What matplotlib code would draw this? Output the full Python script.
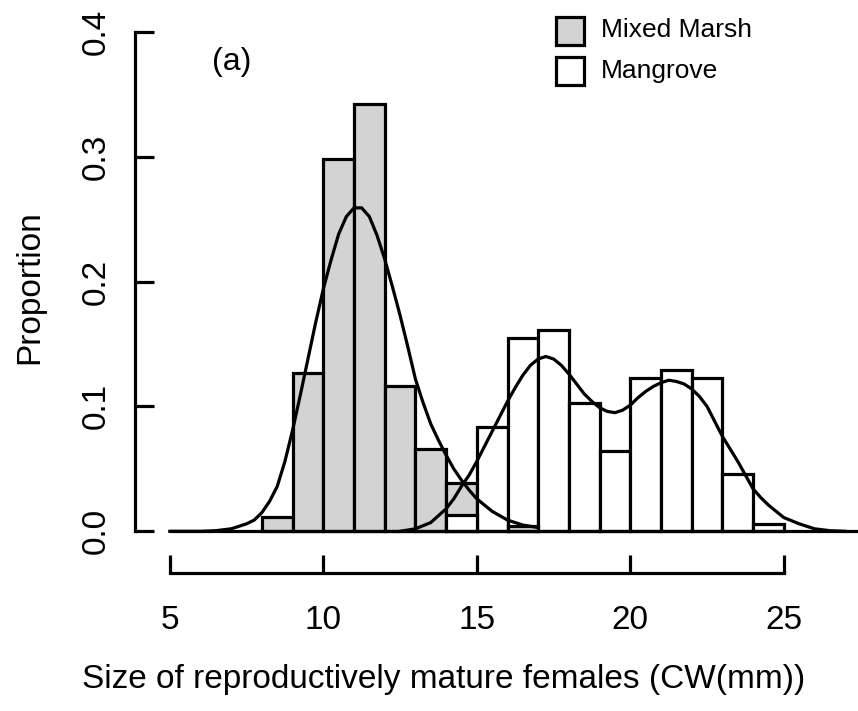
import matplotlib
matplotlib.use("Agg")
import matplotlib.pyplot as plt
import numpy as np
from matplotlib.patches import Rectangle

plt.rcParams['font.family'] = ['Liberation Sans', 'DejaVu Sans']

# ---------------- data ----------------
bin_edges = [8, 9, 10, 11, 12, 13, 14, 15, 16, 17, 18, 19, 20, 21, 22, 23, 24, 25]
marsh_prop = [0.0115, 0.127, 0.298, 0.342, 0.116, 0.066, 0.039, 0.0, 0.004,
              0.0, 0.0, 0.0, 0.0, 0.0, 0.0, 0.0, 0.0]
mangrove_prop = [0.0, 0.0, 0.0, 0.0, 0.0, 0.0, 0.0132, 0.0838, 0.155, 0.161,
                 0.103, 0.0643, 0.1224, 0.1288, 0.1224, 0.0456, 0.0056]

marsh_curve_x = [5.0, 5.5, 6.0, 6.5, 7.0, 7.5, 7.75, 8.0, 8.25, 8.5, 8.75, 9.0,
                 9.25, 9.5, 9.75, 10.0, 10.25, 10.5, 10.75, 11.0, 11.25, 11.5,
                 11.75, 12.0, 12.25, 12.5, 12.75, 13.0, 13.25, 13.5, 13.75, 14.0,
                 14.25, 14.5, 14.75, 15.0, 15.5, 16.0, 16.5, 17.0]
marsh_curve_y = [0.0, 0.0, 0.0, 0.0005, 0.002, 0.006, 0.009, 0.015, 0.024, 0.036,
                 0.056, 0.081, 0.109, 0.138, 0.167, 0.194, 0.217, 0.238, 0.252,
                 0.259, 0.259, 0.252, 0.237, 0.218, 0.196, 0.173, 0.148, 0.122,
                 0.103, 0.086, 0.073, 0.061, 0.050, 0.041, 0.033, 0.026, 0.016,
                 0.009, 0.005, 0.003]

mangrove_curve_x = [12.5, 13.0, 13.5, 14.0, 14.25, 14.5, 14.75, 15.0, 15.25, 15.5,
                    15.75, 16.0, 16.25, 16.5, 16.75, 17.0, 17.25, 17.5, 17.75,
                    18.0, 18.25, 18.5, 18.75, 19.0, 19.25, 19.5, 19.75, 20.0,
                    20.25, 20.5, 20.75, 21.0, 21.25, 21.5, 21.75, 22.0, 22.25,
                    22.5, 22.75, 23.0, 23.25, 23.5, 23.75, 24.0, 24.25, 24.5,
                    24.75, 25.0, 25.5, 26.0, 26.5, 27.0]
mangrove_curve_y = [0.0, 0.002, 0.007, 0.018, 0.026, 0.036, 0.045, 0.056, 0.068,
                    0.080, 0.092, 0.104, 0.115, 0.125, 0.133, 0.138, 0.140, 0.138,
                    0.133, 0.126, 0.118, 0.110, 0.104, 0.099, 0.096, 0.095, 0.097,
                    0.101, 0.107, 0.112, 0.116, 0.119, 0.121, 0.120, 0.118, 0.114,
                    0.108, 0.100, 0.088, 0.076, 0.066, 0.056, 0.045, 0.034, 0.027,
                    0.021, 0.016, 0.011, 0.006, 0.002, 0.0005, 0.0]

x_ticks = [5, 10, 15, 20, 25]
y_ticks = [0.0, 0.1, 0.2, 0.3, 0.4]
y_tick_labels = ["0.0", "0.1", "0.2", "0.3", "0.4"]
series_names = ["Mixed Marsh", "Mangrove"]
series_colors = ["#d3d3d3", "white"]
x_label = "Size of reproductively mature females (CW(mm))"
y_label = "Proportion"
panel_tag = "(a)"

# ---------------- layout ----------------
W, H = 858, 711
fig = plt.figure(figsize=(W / 100, H / 100), dpi=100)

def fx(px):
    return px / W

def fy(py):
    return 1 - py / H

ax_left, ax_right, ax_top, ax_bottom = 135, 858, 19, 536
ax = fig.add_axes([fx(ax_left), fy(ax_bottom), (ax_right - ax_left) / W,
                   (ax_bottom - ax_top) / H])
# pixel scale: x=10 at px 323.3, 30.7 px per unit; y=0 at px 531.3, 1248.75 px per unit
x0_px, xs = 323.3, 30.7
y0_px, ys = 531.3, 1248.75
ax.set_xlim(10 + (ax_left - x0_px) / xs, 10 + (ax_right - x0_px) / xs)
ax.set_ylim(-(ax_bottom - y0_px) / ys, (y0_px - ax_top) / ys)

LW = 2.3
edges = np.array(bin_edges, dtype=float)
widths = np.diff(edges)
groups = [np.array(marsh_prop), np.array(mangrove_prop)]
for i in range(len(widths)):
    order = sorted(range(2), key=lambda g: -groups[g][i])
    for rank, g in enumerate(order):
        h = groups[g][i]
        if h <= 0:
            continue
        ax.bar(edges[i], h, width=widths[i], align='edge',
               color=series_colors[g], edgecolor='black', linewidth=LW,
               zorder=2 + rank)

# baseline
ax.hlines(0, x_ticks[0], 30, colors='black', linewidth=LW, zorder=4)
ax.plot(marsh_curve_x, marsh_curve_y, color='black', linewidth=LW, zorder=5,
        solid_joinstyle='round')
ax.plot(mangrove_curve_x, mangrove_curve_y, color='black', linewidth=LW, zorder=5,
        solid_joinstyle='round')

# axes styling (R-like)
for s in ['top', 'right']:
    ax.spines[s].set_visible(False)
ax.spines['left'].set_bounds(y_ticks[0], y_ticks[-1])
ax.spines['left'].set_linewidth(LW)
ax.spines['bottom'].set_position(('data', -(573 - y0_px) / ys))
ax.spines['bottom'].set_bounds(x_ticks[0], x_ticks[-1])
ax.spines['bottom'].set_linewidth(LW)
ax.set_xticks(x_ticks)
ax.set_xticklabels([str(t) for t in x_ticks])
ax.set_yticks(y_ticks)
ax.set_yticklabels(y_tick_labels, rotation=90, va='center')
ax.tick_params(axis='x', direction='in', length=13, width=LW, pad=23, labelsize=24)
ax.tick_params(axis='y', direction='in', length=14, width=LW, pad=17, labelsize=24)
ax.patch.set_visible(False)

# axis titles
fig.text(fx(444), fy(688), x_label, ha='center', va='baseline', fontsize=24)
fig.text(fx(30), fy(287), y_label, ha='center', va='center', rotation=90, fontsize=24)

# panel tag
fig.text(fx(232), fy(70), panel_tag, ha='center', va='baseline', fontsize=23)

# legend
box_rows = [31, 71]
text_base = [37, 78]
for k in range(2):
    cy = box_rows[k]
    fig.patches.append(Rectangle((fx(556), fy(cy + 14)), 28 / W, 28 / H,
                                 transform=fig.transFigure, facecolor=series_colors[k],
                                 edgecolor='black', linewidth=LW))
    fig.text(fx(601), fy(text_base[k]), series_names[k], ha='left', va='baseline',
             fontsize=19)

fig.savefig("out.png", dpi=100)
